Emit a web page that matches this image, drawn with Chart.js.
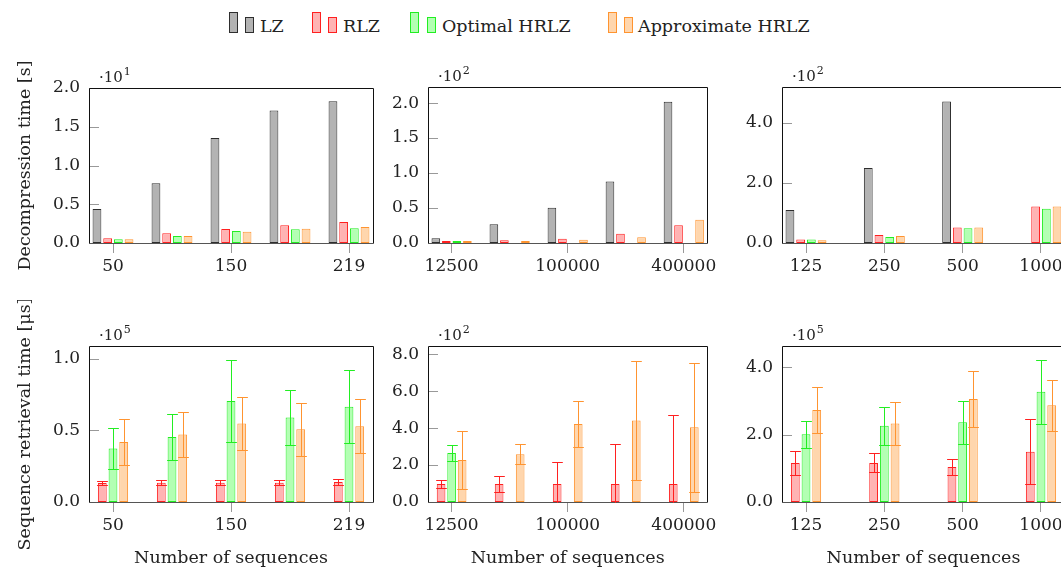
<!DOCTYPE html>
<html><head><meta charset="utf-8">
<script src="https://cdn.jsdelivr.net/npm/chart.js@4.4.0/dist/chart.umd.min.js"></script>
<style>
html,body{margin:0;padding:0;background:#fff;width:1061px;height:572px;overflow:hidden;position:relative;}
canvas{position:absolute;}
.leg{position:absolute;font-family:'DejaVu Serif',serif;font-size:17.5px;line-height:20px;color:#222;white-space:nowrap;top:16px;}
.ico{position:absolute;box-sizing:border-box;border:1px solid;}
</style></head><body>
<div id="legend"></div>
<canvas id="c1" width="380" height="245" style="left:0;top:45px"></canvas>
<canvas id="c2" width="340" height="245" style="left:380px;top:45px"></canvas>
<canvas id="c3" width="360" height="245" style="left:720px;top:45px"></canvas>
<canvas id="c4" width="380" height="272" style="left:0;top:300px"></canvas>
<canvas id="c5" width="340" height="272" style="left:380px;top:300px"></canvas>
<canvas id="c6" width="360" height="272" style="left:720px;top:300px"></canvas>
<script>
// ---------- data ----------
const seriesNames = ['LZ', 'RLZ', 'Optimal HRLZ', 'Approximate HRLZ'];
const catsA = ['50', '100', '150', '200', '219'];
const catsB = ['12500', '50000', '100000', '200000', '400000'];
const catsC = ['125', '250', '500', '1000'];
const shownA = ['50', '150', '219'];
const shownB = ['12500', '100000', '400000'];
const shownC = ['125', '250', '500', '1000'];

// Decompression time (top row)
const decLZ_A  = [0.44, 0.77, 1.355, 1.71, 1.83];
const decRLZ_A = [0.06, 0.125, 0.18, 0.23, 0.27];
const decOpt_A = [0.05, 0.09, 0.155, 0.177, 0.19];
const decApx_A = [0.05, 0.09, 0.146, 0.185, 0.206];

const decLZ_B  = [0.067, 0.267, 0.505, 0.88, 2.02];
const decRLZ_B = [0.004, 0.038, 0.062, 0.133, 0.252];
const decOpt_B = [0.004, null, null, null, null];
const decApx_B = [0.004, 0.019, 0.048, 0.081, 0.333];

const decLZ_C  = [1.10, 2.5, 4.72, null];
const decRLZ_C = [0.12, 0.27, 0.52, 1.22];
const decOpt_C = [0.12, 0.2, 0.49, 1.14];
const decApx_C = [0.09, 0.23, 0.52, 1.22];

// Sequence retrieval time (bottom row): mean and deviation
const retRLZ_A = [0.133, 0.135, 0.135, 0.135, 0.14];
const retRLZ_A_err = [0.017, 0.017, 0.016, 0.016, 0.02];
const retOpt_A = [0.374, 0.454, 0.705, 0.59, 0.665];
const retOpt_A_err = [0.143, 0.162, 0.285, 0.19, 0.255];
const retApx_A = [0.42, 0.472, 0.549, 0.509, 0.53];
const retApx_A_err = [0.16, 0.159, 0.188, 0.186, 0.188];

const retRLZ_B = [0.97, 0.97, 0.97, 0.97, 0.97];
const retRLZ_B_err = [0.23, 0.43, 1.21, 2.18, 3.73];
const retOpt_B = [2.65, null, null, null, null];
const retOpt_B_err = [0.45, null, null, null, null];
const retApx_B = [2.27, 2.59, 4.22, 4.41, 4.05];
const retApx_B_err = [1.56, 0.53, 1.26, 3.24, 3.5];

const retRLZ_C = [1.16, 1.16, 1.04, 1.49];
const retRLZ_C_err = [0.35, 0.28, 0.24, 0.97];
const retOpt_C = [2.01, 2.26, 2.37, 3.27];
const retOpt_C_err = [0.4, 0.57, 0.64, 0.95];
const retApx_C = [2.73, 2.33, 3.06, 2.87];
const retApx_C_err = [0.69, 0.64, 0.83, 0.75];

// axis ticks and scale exponents
const yTicksDecA = [0, 0.5, 1.0, 1.5, 2.0];
const yTicksDecB = [0, 0.5, 1.0, 1.5, 2.0];
const yTicksDecC = [0, 2.0, 4.0];
const yTicksRetA = [0, 0.5, 1.0];
const yTicksRetB = [0, 2.0, 4.0, 6.0, 8.0];
const yTicksRetC = [0, 2.0, 4.0];
const expDec = [1, 2, 2];
const expRet = [5, 2, 5];
const yTitleDec = 'Decompression time [s]';
const yTitleRet = 'Sequence retrieval time [\u03BCs]';
const xTitle = 'Number of sequences';

// ---------- styles ----------
const FONT = "'DejaVu Serif', serif";
const borderCols = ['#2e2e2e', '#ff2020', '#22ee22', '#ff9430'];
const fillCols = ['#b3b3b3', '#ffb3b3', '#b3ffb3', '#ffd6ad'];
Chart.defaults.font.family = FONT;
Chart.defaults.font.size = 17;
Chart.defaults.color = '#222';

// legend (HTML)
const legendX = [[229, 245, 260], [312, 328, 343], [410, 427, 442], [608, 624, 638]];
const leg = document.getElementById('legend');
seriesNames.forEach((n, i) => {
  const [a, b, t] = legendX[i];
  leg.insertAdjacentHTML('beforeend',
    `<div class="ico" style="left:${a}px;top:12px;width:9px;height:21px;border-color:${borderCols[i]};background:${fillCols[i]}"></div>` +
    `<div class="ico" style="left:${b}px;top:17px;width:9px;height:16px;border-color:${borderCols[i]};background:${fillCols[i]}"></div>` +
    `<div class="leg" style="left:${t}px">${n}</div>`);
});

// ---------- plugins ----------
const framePlugin = {
  id: 'frame',
  beforeDatasetsDraw(chart) {
    const {ctx, chartArea: a} = chart;
    const ys = chart.scales.y;
    ctx.save();
    ctx.strokeStyle = '#999'; ctx.lineWidth = 1;
    ys.ticks.forEach(t => {
      const y = Math.round(ys.getPixelForValue(t.value)) + 0.5;
      ctx.beginPath(); ctx.moveTo(a.left, y); ctx.lineTo(a.left + 10, y); ctx.stroke();
    });
    const L = Math.round(a.left) + 0.5, T = Math.round(a.top) + 0.5;
    const R = Math.round(a.right) + 0.5, B = Math.round(a.bottom) + 0.5;
    ctx.strokeStyle = '#111';
    ctx.beginPath(); ctx.moveTo(L, B); ctx.lineTo(L, T); ctx.lineTo(R, T); ctx.lineTo(R, B); ctx.stroke();
    ctx.strokeStyle = '#555';
    ctx.beginPath(); ctx.moveTo(L, B); ctx.lineTo(R, B); ctx.stroke();
    ctx.restore();
  },
  afterDraw(chart, args, opts) {
    const {ctx, chartArea: a} = chart;
    ctx.save();
    ctx.fillStyle = '#222';
    ctx.textBaseline = 'alphabetic';
    ctx.font = `15px ${FONT}`;
    const x = a.left + 10, y = a.top - 6;
    ctx.fillText('\u00B710', x, y);
    const w = ctx.measureText('\u00B710').width;
    ctx.font = `11px ${FONT}`;
    ctx.fillText(String(opts.exp), x + w + 1, y - 7);
    ctx.restore();
  }
};

const errPlugin = {
  id: 'errbars',
  afterDatasetsDraw(chart) {
    const {ctx, chartArea: a} = chart;
    const ys = chart.scales.y;
    ctx.save();
    ctx.beginPath(); ctx.rect(a.left, a.top, a.right - a.left, a.bottom - a.top + 1); ctx.clip();
    chart.data.datasets.forEach((ds, di) => {
      if (!ds.errors) return;
      const meta = chart.getDatasetMeta(di);
      meta.data.forEach((bar, i) => {
        const v = ds.data[i].y, e = ds.errors[i];
        if (v == null || e == null) return;
        const x = Math.round(bar.x) + 0.5, hw = bar.width / 2 + 1;
        const yt = Math.round(ys.getPixelForValue(v + e)) + 0.5;
        const yb = Math.round(ys.getPixelForValue(v - e)) + 0.5;
        ctx.strokeStyle = ds.borderColor; ctx.lineWidth = 1;
        ctx.beginPath();
        ctx.moveTo(x, yt); ctx.lineTo(x, yb);
        ctx.moveTo(x - hw, yt); ctx.lineTo(x + hw, yt);
        ctx.moveTo(x - hw, yb); ctx.lineTo(x + hw, yb);
        ctx.stroke();
      });
    });
    ctx.restore();
  }
};

// ---------- chart builder ----------
function makeChart(id, cfg) {
  const n = cfg.cats.length;
  const datasets = cfg.series.map(s => ({
    label: seriesNames[s.k],
    data: s.vals.map((v, i) => ({x: i, y: v})),
    errors: s.err || null,
    backgroundColor: fillCols[s.k],
    borderColor: borderCols[s.k],
    borderWidth: 1,
    borderSkipped: false,
    minBarLength: 2,
    categoryPercentage: cfg.cp,
    barPercentage: 0.82
  }));
  new Chart(document.getElementById(id), {
    type: 'bar',
    data: {datasets},
    plugins: [framePlugin, errPlugin],
    options: {
      responsive: false, animation: false,
      layout: {padding: {left: 0, right: cfg.padR, top: cfg.padT, bottom: 0}},
      plugins: {legend: {display: false}, tooltip: {enabled: false}, frame: {exp: cfg.exp}},
      scales: {
        x: {
          type: 'linear', offset: false,
          min: -cfg.off, max: n - 1 + cfg.off,
          afterBuildTicks: s => { s.ticks = cfg.shown.map(c => ({value: cfg.cats.indexOf(c)})); },
          afterFit: s => { s.height = cfg.xH; },
          ticks: {callback: v => cfg.cats[v], padding: 3, maxRotation: 0, autoSkip: false},
          grid: {display: true, offset: false, drawOnChartArea: false, drawTicks: true, tickLength: 10, color: '#999'},
          border: {display: false},
          title: {display: !!cfg.xTitle, text: cfg.xTitle || '', font: {size: 17.5}, padding: {top: 0, bottom: 3}}
        },
        y: {
          type: 'linear', min: 0, max: cfg.yMax,
          afterBuildTicks: s => { s.ticks = cfg.yTicks.map(v => ({value: v})); },
          afterFit: s => { s.width = cfg.yW; },
          ticks: {callback: v => v.toFixed(1), padding: 9},
          grid: {display: false, drawTicks: false},
          border: {display: false},
          title: {display: !!cfg.yTitle, text: cfg.yTitle || '', font: {size: 17.5}, padding: {top: 14.5, bottom: 0}}
        }
      }
    }
  });
}

const offA = 24 / 59, offC = 24 / 78.3;
makeChart('c1', {cats: catsA, shown: shownA, off: offA, yMax: 2.0, yTicks: yTicksDecA, exp: expDec[0], yW: 89, padR: 7, padT: 43, xH: 47, cp: 0.725, yTitle: yTitleDec,
  series: [{k: 0, vals: decLZ_A}, {k: 1, vals: decRLZ_A}, {k: 2, vals: decOpt_A}, {k: 3, vals: decApx_A}]});
makeChart('c2', {cats: catsB, shown: shownB, off: offA, yMax: 2.23, yTicks: yTicksDecB, exp: expDec[1], yW: 48, padR: 9, padT: 42, xH: 47, cp: 0.725,
  series: [{k: 0, vals: decLZ_B}, {k: 1, vals: decRLZ_B}, {k: 2, vals: decOpt_B}, {k: 3, vals: decApx_B}]});
makeChart('c3', {cats: catsC, shown: shownC, off: offC, yMax: 5.2, yTicks: yTicksDecC, exp: expDec[2], yW: 62, padR: 15, padT: 42, xH: 47, cp: 0.547,
  series: [{k: 0, vals: decLZ_C}, {k: 1, vals: decRLZ_C}, {k: 2, vals: decOpt_C}, {k: 3, vals: decApx_C}]});
makeChart('c4', {cats: catsA, shown: shownA, off: offA, yMax: 1.09, yTicks: yTicksRetA, exp: expRet[0], yW: 89, padR: 7, padT: 46, xH: 70, cp: 0.544, yTitle: yTitleRet, xTitle: xTitle,
  series: [{k: 1, vals: retRLZ_A, err: retRLZ_A_err}, {k: 2, vals: retOpt_A, err: retOpt_A_err}, {k: 3, vals: retApx_A, err: retApx_A_err}]});
makeChart('c5', {cats: catsB, shown: shownB, off: offA, yMax: 8.45, yTicks: yTicksRetB, exp: expRet[1], yW: 48, padR: 9, padT: 46, xH: 70, cp: 0.544, xTitle: xTitle,
  series: [{k: 1, vals: retRLZ_B, err: retRLZ_B_err}, {k: 2, vals: retOpt_B, err: retOpt_B_err}, {k: 3, vals: retApx_B, err: retApx_B_err}]});
makeChart('c6', {cats: catsC, shown: shownC, off: offC, yMax: 4.63, yTicks: yTicksRetC, exp: expRet[2], yW: 62, padR: 15, padT: 46, xH: 70, cp: 0.41, xTitle: xTitle,
  series: [{k: 1, vals: retRLZ_C, err: retRLZ_C_err}, {k: 2, vals: retOpt_C, err: retOpt_C_err}, {k: 3, vals: retApx_C, err: retApx_C_err}]});
</script>
</body></html>
